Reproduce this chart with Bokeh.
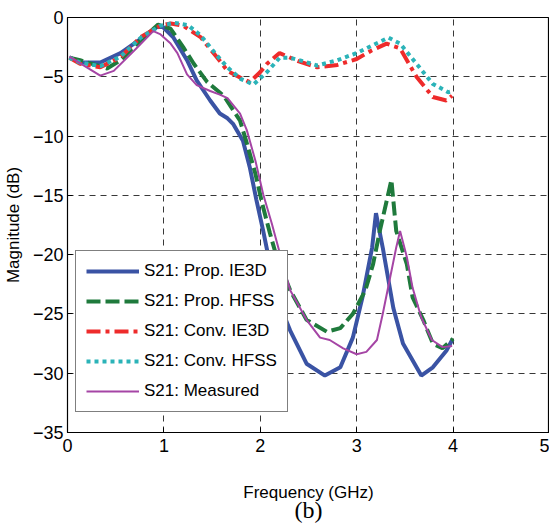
from bokeh.plotting import figure
from bokeh.models import Range1d, FixedTicker, Legend, LegendItem, LinearAxis
from bokeh.embed import file_html
from bokeh.resources import INLINE

# ---- data (GHz, dB) ----
prop_ie3d_x = [0.02, 0.13, 0.34, 0.55, 0.76, 0.93, 0.99, 1.10, 1.24, 1.34, 1.48, 1.58, 1.66, 1.72, 1.82, 1.89, 1.96, 2.03, 2.07, 2.17, 2.31, 2.48, 2.67, 2.83, 2.96, 3.06, 3.16, 3.20, 3.27, 3.38, 3.48, 3.67, 3.79, 3.93, 3.99]
prop_ie3d_y = [-3.35, -3.8, -3.8, -3.0, -1.8, -0.8, -0.8, -1.7, -3.6, -5.3, -7.0, -8.1, -8.5, -9.0, -10.4, -12.6, -15.4, -18.0, -19.6, -23.6, -26.4, -29.2, -30.2, -29.5, -27.0, -23.6, -19.4, -16.5, -19.4, -24.5, -27.5, -30.2, -29.5, -28.1, -27.2]

prop_hfss_x = [0.02, 0.13, 0.41, 0.55, 0.76, 0.94, 1.07, 1.20, 1.31, 1.45, 1.62, 1.79, 1.86, 1.95, 2.02, 2.10, 2.17, 2.31, 2.48, 2.69, 2.83, 2.96, 3.09, 3.17, 3.24, 3.36, 3.41, 3.52, 3.58, 3.69, 3.79, 3.89, 4.00]
prop_hfss_y = [-3.4, -3.6, -4.3, -3.6, -1.9, -0.6, -0.95, -2.5, -3.9, -5.45, -6.6, -8.7, -10.6, -13.2, -15.7, -18.2, -20.2, -23.0, -25.5, -26.5, -26.2, -25.0, -23.0, -20.8, -18.0, -13.7, -18.0, -20.8, -23.6, -25.5, -27.5, -27.9, -27.1]

conv_ie3d_x = [0.02, 0.13, 0.34, 0.55, 0.76, 0.96, 1.07, 1.20, 1.38, 1.55, 1.66, 1.80, 1.89, 2.00, 2.07, 2.20, 2.40, 2.59, 2.80, 3.00, 3.15, 3.31, 3.45, 3.62, 3.79, 3.93, 3.99]
conv_ie3d_y = [-3.4, -3.9, -4.2, -3.35, -1.65, -0.7, -0.5, -0.7, -1.65, -3.35, -4.5, -5.1, -5.45, -4.6, -3.9, -3.0, -3.7, -4.2, -4.0, -3.5, -2.8, -2.2, -2.6, -5.0, -6.7, -7.0, -6.6]

conv_hfss_x = [0.02, 0.13, 0.34, 0.55, 0.76, 0.96, 1.11, 1.25, 1.38, 1.55, 1.66, 1.80, 1.93, 2.07, 2.20, 2.31, 2.45, 2.59, 2.80, 3.00, 3.15, 3.33, 3.45, 3.62, 3.79, 3.95, 4.00]
conv_hfss_y = [-3.4, -3.8, -4.1, -3.3, -1.7, -0.7, -0.45, -0.65, -1.5, -3.2, -4.2, -5.2, -5.65, -4.6, -3.4, -3.4, -3.7, -4.05, -3.6, -3.0, -2.4, -1.7, -2.2, -3.9, -5.6, -6.3, -6.2]

measured_x = [0.02, 0.20, 0.34, 0.48, 0.69, 0.89, 0.96, 1.07, 1.14, 1.24, 1.34, 1.48, 1.58, 1.66, 1.79, 1.86, 1.95, 2.03, 2.12, 2.20, 2.31, 2.48, 2.62, 2.72, 2.86, 3.00, 3.10, 3.21, 3.27, 3.34, 3.41, 3.45, 3.52, 3.58, 3.67, 3.78, 3.89, 3.99]
measured_y = [-3.3, -4.2, -4.9, -4.5, -2.8, -1.15, -1.4, -2.2, -3.0, -4.8, -5.7, -6.2, -6.5, -6.8, -8.1, -9.5, -12.1, -14.9, -17.4, -19.8, -23.0, -25.5, -27.0, -27.2, -27.9, -28.4, -28.2, -27.2, -25.0, -22.2, -19.4, -18.0, -20.2, -22.8, -25.3, -27.2, -27.8, -27.7]

series_labels = ["S21: Prop. IE3D", "S21: Prop. HFSS", "S21: Conv. IE3D", "S21: Conv. HFSS", "S21: Measured"]
x_ticks = [0, 1, 2, 3, 4, 5]
y_ticks = [0, -5, -10, -15, -20, -25, -30, -35]

FONT = "Liberation Sans"

p = figure(frame_width=482, frame_height=415, output_backend="svg", toolbar_location=None,
           x_range=Range1d(0, 5), y_range=Range1d(-35, 0),
           min_border_left=59, min_border_right=0, min_border_top=17, min_border_bottom=0)
p.background_fill_color = "white"
p.border_fill_color = "white"
p.outline_line_color = "black"
p.outline_line_width = 1.2
p.outline_line_alpha = 1.0

for ax, ticks in ((p.xaxis[0], x_ticks), (p.yaxis[0], y_ticks)):
    ax.ticker = FixedTicker(ticks=ticks)
    ax.major_tick_in = 5
    ax.major_tick_out = 0
    ax.minor_tick_in = 0
    ax.minor_tick_out = 0
    ax.axis_line_color = "black"
    ax.major_tick_line_color = "black"
    ax.major_label_text_font = FONT
    ax.major_label_text_font_size = "18px"
    ax.major_label_text_color = "black"
    ax.axis_label_text_font = FONT
    ax.axis_label_text_font_size = "17px"
    ax.axis_label_text_font_style = "normal"
    ax.axis_label_text_color = "black"

p.xaxis.axis_label = "Frequency (GHz)"
p.yaxis.axis_label = "Magnitude (dB)"
p.xaxis.major_label_standoff = 6
p.xaxis.axis_label_standoff = 28
p.yaxis.major_label_standoff = 4
p.yaxis.axis_label_standoff = 7

# caption below the x-axis, drawn as the label of an extra, tick-less axis
cap = LinearAxis(ticker=FixedTicker(ticks=[]), axis_label="(b)",
                 axis_line_color=None, major_tick_in=0, major_tick_out=0,
                 minor_tick_in=0, minor_tick_out=0,
                 major_label_text_font_size="0px", major_label_standoff=0,
                 axis_label_standoff=-8, axis_label_text_font="Liberation Serif",
                 axis_label_text_font_size="24px", axis_label_text_font_style="normal",
                 axis_label_text_color="black")
p.add_layout(cap, "below")

p.grid.grid_line_color = "#222222"
p.grid.grid_line_dash = "6 5"
p.grid.grid_line_width = 1
p.grid.grid_line_alpha = 0.9

r1 = p.line(prop_ie3d_x, prop_ie3d_y, line_color="#3a53a4", line_width=4)
r2 = p.line(prop_hfss_x, prop_hfss_y, line_color="#1f7a3c", line_width=4, line_dash="14 5")
r3 = p.line(conv_ie3d_x, conv_ie3d_y, line_color="#ee2b2b", line_width=4, line_dash="14 5 4 5")
r4 = p.line(conv_hfss_x, conv_hfss_y, line_color="#2bb3b8", line_width=4, line_dash="4 4")
r5 = p.line(measured_x, measured_y, line_color="#a545a5", line_width=2)

legend = Legend(items=[LegendItem(label=l, renderers=[r]) for l, r in zip(series_labels, [r1, r2, r3, r4, r5])],
                location=(8, 20), margin=0, padding=10, spacing=10,
                glyph_width=53, glyph_height=20, label_height=20, label_standoff=5,
                label_text_font=FONT, label_text_font_size="17px", label_text_color="black",
                border_line_color="black", border_line_width=1.2, background_fill_alpha=1.0)
p.add_layout(legend, "center")

open("out.html", "w").write(file_html(p, INLINE))
